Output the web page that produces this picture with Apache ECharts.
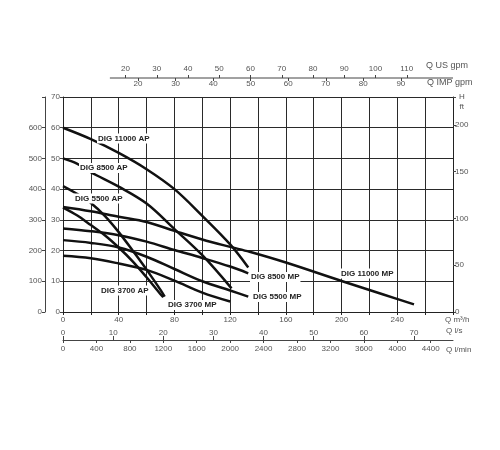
<!DOCTYPE html>
<html>
<head>
<meta charset="utf-8">
<script src="https://cdn.jsdelivr.net/npm/echarts@6/dist/echarts.min.js"></script>
<style>html,body{margin:0;padding:0;background:#fff}#c{width:500px;height:450px}</style>
</head>
<body>
<div id="c"></div>
<script>
// ---- data (Q in m3/h, H in m) ----
const dig11000AP = [[0,60],[20,56.3],[40,51.8],[60,46.5],[80,40],[100,31.3],[120,22],[133,14.5]];
const dig8500AP  = [[0,50],[10,48.3],[20,45.5],[40,40.8],[60,35.3],[80,27],[100,18.5],[121,7.7]];
const dig5500AP  = [[0,41],[10,38.5],[20,35.5],[30,31.3],[40,26],[50,20],[60,13.8],[70,7.2],[73,5]];
const dig3700AP  = [[0,34],[10,31.5],[20,28.3],[30,25],[40,21],[50,16.5],[60,11.3],[70,5.8],[72,4.8]];
const dig11000MP = [[0,34.2],[20,32.8],[40,31],[60,29.3],[80,26.4],[100,23.6],[120,21.2],[134,19.6],[160,16.1],[200,10.1],[230,5.7],[252,2.5]];
const dig8500MP  = [[0,27.2],[20,26.3],[40,25],[60,22.9],[80,20.2],[100,17.6],[120,14.8],[133,12.6]];
const dig5500MP  = [[0,23.4],[20,22.5],[40,21],[60,18],[80,14],[100,10],[120,7],[133,5]];
const dig3700MP  = [[0,18.3],[20,17.5],[40,15.8],[60,13.7],[80,10.2],[100,6.3],[120,3.4]];

const seriesNames = ['DIG 11000 AP','DIG 8500 AP','DIG 5500 AP','DIG 3700 AP','DIG 11000 MP','DIG 8500 MP','DIG 5500 MP','DIG 3700 MP'];
const seriesData = [dig11000AP,dig8500AP,dig5500AP,dig3700AP,dig11000MP,dig8500MP,dig5500MP,dig3700MP];

// axis ranges / ticks
const qMax = 280;          // m3/h
const hMax = 70;           // m
const lsTicks = [0,10,20,30,40,50,60,70];
const lminTicks = [0,400,800,1200,1600,2000,2400,2800,3200,3600,4000,4400];
const usTicks = [20,30,40,50,60,70,80,90,100,110];
const impTicks = [20,30,40,50,60,70,80,90];
const usMax = 124.8;
const impMax = 103.9;
const usLineStart = 15;

const FONT = '"Liberation Sans", Arial, sans-serif';
const LBL = {color:'#555', fontSize:8, fontFamily:FONT};

const chart = echarts.init(document.getElementById('c'), null, {renderer:'canvas'});

const labelPos = [
  ['DIG 11000 AP', 97, 138.5],
  ['DIG 8500 AP', 79, 168],
  ['DIG 5500 AP', 74, 198.5],
  ['DIG 3700 AP', 100, 290.5],
  ['DIG 3700 MP', 167, 305],
  ['DIG 8500 MP', 250, 277],
  ['DIG 5500 MP', 252, 297],
  ['DIG 11000 MP', 340, 273.5]
];

const graphics = labelPos.map(([t,x,y]) => ({
  type:'text', left:x, top:y-5, z:100,
  style:{text:t, fill:'#222', font:'bold 8px ' + FONT, backgroundColor:'#fff', padding:[1,1]}
}));
[['Q US gpm',426,67,9],['Q IMP gpm',427,83.5,9],['H',459,98,8],['ft',459.5,108,8],['Q m\u00b3/h',445,320.5,8],['Q l/s',446,332,8],['Q l/min',446,350.5,8]].forEach(([t,x,y,fs])=>{
  graphics.push({type:'text', left:x, top:y-fs/2-1, z:100, style:{text:t, fill:'#555', font:fs + 'px ' + FONT}});
});

chart.setOption({
  animation:false,
  backgroundColor:'#fff',
  grid:{left:63, right:47, top:97, bottom:138, containLabel:false, outerBoundsMode:'none'},
  xAxis:[
    {type:'value', position:'bottom', min:0, max:qMax, interval:20,
     axisLine:{show:true, onZero:false, lineStyle:{color:'#222', width:1}},
     axisTick:{show:true, length:3, lineStyle:{color:'#222'}},
     axisLabel:Object.assign({margin:4, formatter:v => (v % 40 === 0 && v < qMax) ? String(v) : ''}, LBL),
     splitLine:{show:true, lineStyle:{color:'#2a2a2a', width:1}}},
    {type:'value', position:'bottom', offset:28, min:0, max:qMax/3.6, interval:10,
     axisLine:{show:true, onZero:false, lineStyle:{color:'#444', width:1}},
     axisTick:{show:true, inside:true, length:4, customValues:lsTicks, lineStyle:{color:'#444'}},
     axisLabel:Object.assign({inside:true, margin:3, customValues:lsTicks, formatter:v => (v % 10 === 0 && v <= 70) ? String(v) : ''}, LBL),
     splitLine:{show:false}},
    {type:'value', position:'bottom', offset:28, min:0, max:qMax*1000/60, interval:400,
     axisLine:{show:false, onZero:false},
     axisTick:{show:true, length:3, customValues:lminTicks, lineStyle:{color:'#444'}},
     axisLabel:Object.assign({margin:5, customValues:lminTicks, formatter:v => (v % 400 === 0 && v <= 4400) ? String(v) : ''}, LBL),
     splitLine:{show:false}},
    {type:'value', position:'top', offset:19, min:0, max:usMax, interval:10,
     axisLine:{show:false, onZero:false},
     axisTick:{show:true, length:3, customValues:usTicks, lineStyle:{color:'#444'}},
     axisLabel:Object.assign({margin:5, customValues:usTicks, formatter:v => (v >= 20 && v <= 110) ? String(v) : ''}, LBL),
     splitLine:{show:false}},
    {type:'value', position:'top', offset:19, min:0, max:impMax, interval:10,
     axisLine:{show:false, onZero:false},
     axisTick:{show:true, inside:true, length:3, customValues:impTicks, lineStyle:{color:'#444'}},
     axisLabel:Object.assign({inside:true, margin:2, customValues:impTicks, formatter:v => (v >= 20 && v <= 90) ? String(v) : ''}, LBL),
     splitLine:{show:false}}
  ],
  yAxis:[
    {type:'value', position:'left', min:0, max:hMax, interval:10,
     axisLine:{show:true, onZero:false, lineStyle:{color:'#222', width:1}},
     axisTick:{show:true, length:3, lineStyle:{color:'#444'}},
     axisLabel:Object.assign({margin:3}, LBL),
     splitLine:{show:true, lineStyle:{color:'#2a2a2a', width:1}}},
    {type:'value', position:'left', offset:18, min:0, max:hMax*10, interval:100,
     axisLine:{show:true, onZero:false, lineStyle:{color:'#444', width:1}},
     axisTick:{show:true, length:3, lineStyle:{color:'#444'}},
     axisLabel:Object.assign({margin:3, formatter:v => v < 700 ? String(v) : ''}, LBL),
     splitLine:{show:false}},
    {type:'value', position:'right', min:0, max:hMax*3.28084, interval:50,
     axisLine:{show:true, onZero:false, lineStyle:{color:'#222', width:1}},
     axisTick:{show:true, length:3, lineStyle:{color:'#444'}},
     axisLabel:Object.assign({margin:2, formatter:v => (v % 50 === 0 && v <= 200) ? String(v) : ''}, LBL),
     splitLine:{show:false}}
  ],
  series: seriesData.map((d,i) => ({
    name:seriesNames[i], type:'line', xAxisIndex:0, yAxisIndex:0, data:d,
    smooth:0.35, showSymbol:false, symbol:'none',
    lineStyle:{color:'#111', width:2.5}, z:5
  })),
  graphic: graphics
});

// top gpm axis line (partial, as in the reference)
const x1 = chart.convertToPixel({xAxisIndex:3}, usLineStart);
const x2 = chart.convertToPixel({xAxisIndex:3}, usMax);
graphics.push({type:'line', z:50, shape:{x1:x1, y1:78, x2:x2, y2:78}, style:{stroke:'#444', lineWidth:1}});
chart.setOption({graphic: graphics});
</script>
</body>
</html>
